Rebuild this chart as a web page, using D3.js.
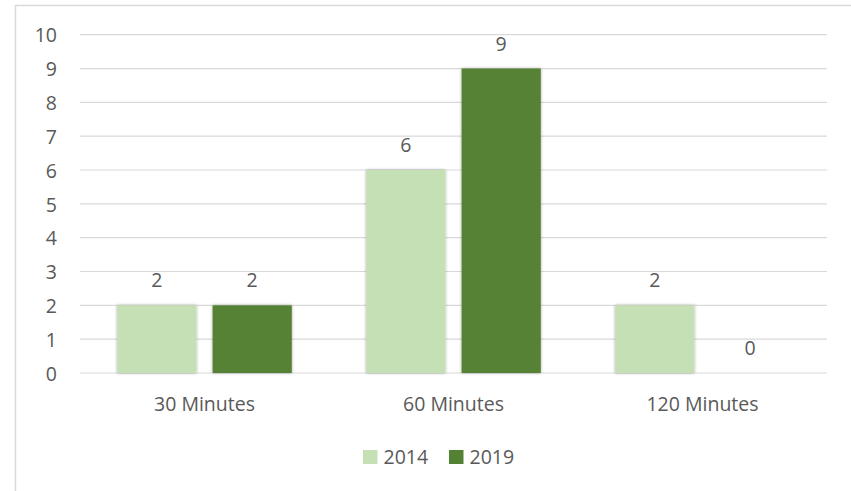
<!DOCTYPE html>
<html><head><meta charset="utf-8">
<script src="https://cdn.jsdelivr.net/npm/d3@7"></script>
<style>body{margin:0;background:#fff}svg{display:block}text{font-family:"Open Sans",sans-serif;fill:#595959}</style>
</head><body>
<script>
const categories = ["30 Minutes", "60 Minutes", "120 Minutes"];
const seriesNames = ["2014", "2019"];
const values2014 = [2, 6, 2];
const values2019 = [2, 9, 0];
const yTicks = [0,1,2,3,4,5,6,7,8,9,10];
const colors = ["#C5E0B4", "#548235"];

const W = 851, H = 491, FS = 19.5;
const svg = d3.select("body").append("svg").attr("width", W).attr("height", H);
svg.append("rect").attr("x",15.5).attr("y",5.5).attr("width",W).attr("height",H)
  .attr("fill","#fff").attr("stroke","#d9d9d9").attr("stroke-width",1.5);

const pLeft = 80, pRight = 827, pTop = 34.7, pBottom = 373;
const x = d3.scaleBand().domain(categories).range([pLeft,pRight]).paddingInner(0).paddingOuter(0);
const xs = d3.scaleBand().domain(seriesNames).range([0,x.bandwidth()]).paddingInner(0.17).paddingOuter(0.39);
const y = d3.scaleLinear().domain([0,10]).range([pBottom,pTop]);

const defs = svg.append("defs");
const f = defs.append("filter").attr("id","sh").attr("x","-20%").attr("y","-20%").attr("width","140%").attr("height","140%");
f.append("feDropShadow").attr("dx",0).attr("dy",0).attr("stdDeviation",1.5).attr("flood-color","#000").attr("flood-opacity",0.35);

// gridlines
svg.append("g").selectAll("line").data(yTicks).join("line")
  .attr("x1",pLeft).attr("x2",pRight).attr("y1",d=>y(d)).attr("y2",d=>y(d))
  .attr("stroke","#d9d9d9").attr("stroke-width",1.2);

// y axis labels
const yAxis = d3.axisLeft(y).tickValues(yTicks).tickSize(0).tickPadding(0);
const ga = svg.append("g").attr("transform",`translate(57,0)`).call(yAxis);
ga.select(".domain").remove();
ga.selectAll("text").attr("font-size",FS).attr("fill","#595959").style("font-family","'Open Sans',sans-serif").attr("dy","0.37em");

// x axis labels
const xAxis = d3.axisBottom(x).tickSize(0).tickPadding(0);
const gx = svg.append("g").attr("transform",`translate(0,${pBottom})`).call(xAxis);
gx.select(".domain").remove();
gx.selectAll("text").attr("font-size",FS).attr("fill","#595959").style("font-family","'Open Sans',sans-serif").attr("dy","0").attr("y",38);

const data = categories.map((c,i)=>({cat:c, vals:[{s:"2014",v:values2014[i]},{s:"2019",v:values2019[i]}]}));
const g = svg.append("g").selectAll("g").data(data).join("g").attr("transform",d=>`translate(${x(d.cat)},0)`);
g.selectAll("rect").data(d=>d.vals).join("rect")
  .attr("x",d=>xs(d.s)).attr("width",xs.bandwidth())
  .attr("y",d=>y(d.v)).attr("height",d=>y(0)-y(d.v))
  .attr("fill",(d,i)=>colors[i]).attr("filter",d=>d.v>0?"url(#sh)":null);
g.selectAll("text.lbl").data(d=>d.vals).join("text").attr("class","lbl")
  .attr("x",d=>xs(d.s)+xs.bandwidth()/2).attr("y",d=>y(d.v)-18)
  .attr("text-anchor","middle").attr("font-size",FS).text(d=>d.v);

// legend
const lg = svg.append("g");
const legX = [363, 449];
seriesNames.forEach((s,i)=>{
  lg.append("rect").attr("x",legX[i]).attr("y",450).attr("width",14.5).attr("height",14).attr("fill",colors[i]);
  lg.append("text").attr("x",legX[i]+20.5).attr("y",464).attr("font-size",FS).text(s);
});
</script>
</body></html>
